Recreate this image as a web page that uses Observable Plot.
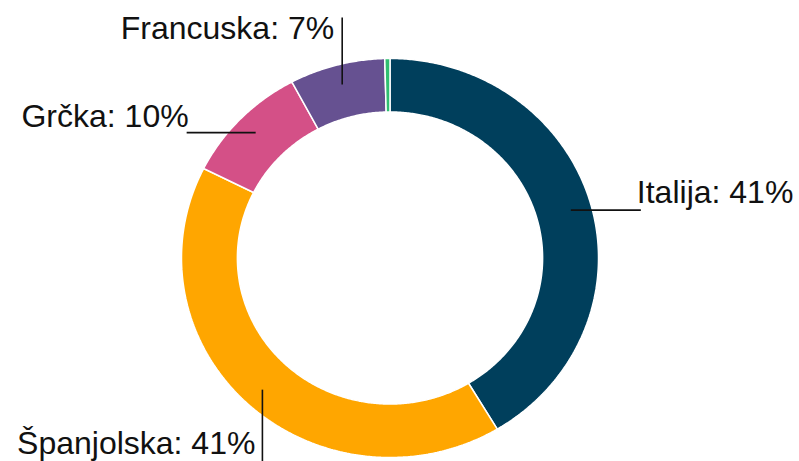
<!DOCTYPE html>
<html>
<head>
<meta charset="utf-8">
<script src="https://cdn.jsdelivr.net/npm/d3@7"></script>
<script src="https://cdn.jsdelivr.net/npm/@observablehq/plot@0.6"></script>
<style>
  html, body { margin: 0; padding: 0; background: #fff; }
  #chart svg { display: block; }
</style>
</head>
<body>
<div id="chart"></div>
<script>
// ---- data ----
const categories = ["Italija", "Španjolska", "Grčka", "Francuska", "Ostalo"];
const shares = [41.4, 41.0, 9.8, 7.4, 0.4];
const sliceColors = ["#003f5c", "#ffa600", "#d45087", "#665191", "#2fbf71"];
const labelled = [true, true, true, true, false];

// ---- layout ----
const W = 799, H = 461;
const cx = 389.5, cy = 257.5;      // centre (px)
const Rx = 208.5, Ry = 199.5;      // outer radii (px)
const innerFrac = 0.732;
const anchorFrac = 0.9;
const leader = { // direction, length (px), text offset (px: right, up), text anchor
  "Italija":    { dir: "right", len: 70, tdx: -4, tdy: 7,   anchor: "start" },
  "Španjolska": { dir: "down",  len: 72, tdx: -7, tdy: 8,   anchor: "end" },
  "Grčka":      { dir: "left",  len: 69, tdx: 2,  tdy: 6,   anchor: "end" },
  "Francuska":  { dir: "up",    len: 67, tdx: -8, tdy: -22, anchor: "end" }
};

const total = d3.sum(shares);
let cum = 0;
const slices = categories.map((c, i) => {
  const a0 = cum / total * 2 * Math.PI;
  cum += shares[i];
  const a1 = cum / total * 2 * Math.PI;
  return { category: c, value: shares[i], color: sliceColors[i], a0, a1, labelled: labelled[i] };
});

function ringPoints(s) {
  const n = Math.max(2, Math.ceil((s.a1 - s.a0) / (Math.PI / 360)));
  const pts = [];
  for (let k = 0; k <= n; k++) {
    const a = s.a0 + (s.a1 - s.a0) * k / n;
    pts.push({ x: Math.sin(a), y: Math.cos(a) });
  }
  for (let k = n; k >= 0; k--) {
    const a = s.a0 + (s.a1 - s.a0) * k / n;
    pts.push({ x: innerFrac * Math.sin(a), y: innerFrac * Math.cos(a) });
  }
  pts.push(pts[0]);
  return pts;
}

const links = [];
const labelsStart = [];
const labelsEnd = [];
slices.filter(s => s.labelled).forEach(s => {
  const L = leader[s.category];
  const m = (s.a0 + s.a1) / 2;
  const x1 = anchorFrac * Math.sin(m), y1 = anchorFrac * Math.cos(m);
  let x2 = x1, y2 = y1;
  if (L.dir === "right") x2 = x1 + L.len / Rx;
  if (L.dir === "left") x2 = x1 - L.len / Rx;
  if (L.dir === "up") y2 = y1 + L.len / Ry;
  if (L.dir === "down") y2 = y1 - L.len / Ry;
  links.push({ x1, y1, x2, y2 });
  const t = {
    x: x2 + L.tdx / Rx,
    y: y2 + L.tdy / Ry,
    text: `${s.category}: ${Math.round(s.value / total * 100)}%`
  };
  (L.anchor === "start" ? labelsStart : labelsEnd).push(t);
});

const font = "'Liberation Sans', Helvetica, Arial, sans-serif";

const marks = slices.map(s =>
  Plot.line(ringPoints(s), {
    x: "x", y: "y",
    fill: s.color, stroke: "#ffffff", strokeWidth: 1.5,
    strokeLinejoin: "miter", curve: "linear"
  })
);
marks.push(
  Plot.link(links, { x1: "x1", y1: "y1", x2: "x2", y2: "y2", stroke: "#111", strokeWidth: 1.6 }),
  Plot.text(labelsStart, { x: "x", y: "y", text: "text", textAnchor: "start", lineAnchor: "bottom",
    fontSize: 32, fill: "#111", fontFamily: font }),
  Plot.text(labelsEnd, { x: "x", y: "y", text: "text", textAnchor: "end", lineAnchor: "bottom",
    fontSize: 32, fill: "#111", fontFamily: font })
);

const chart = Plot.plot({
  width: W, height: H,
  margin: 0,
  style: { background: "#fff", overflow: "hidden" },
  x: { domain: [(0 - cx) / Rx, (W - cx) / Rx], axis: null },
  y: { domain: [(cy - H) / Ry, cy / Ry], axis: null },
  marks
});
document.getElementById("chart").appendChild(chart);
</script>
</body>
</html>
